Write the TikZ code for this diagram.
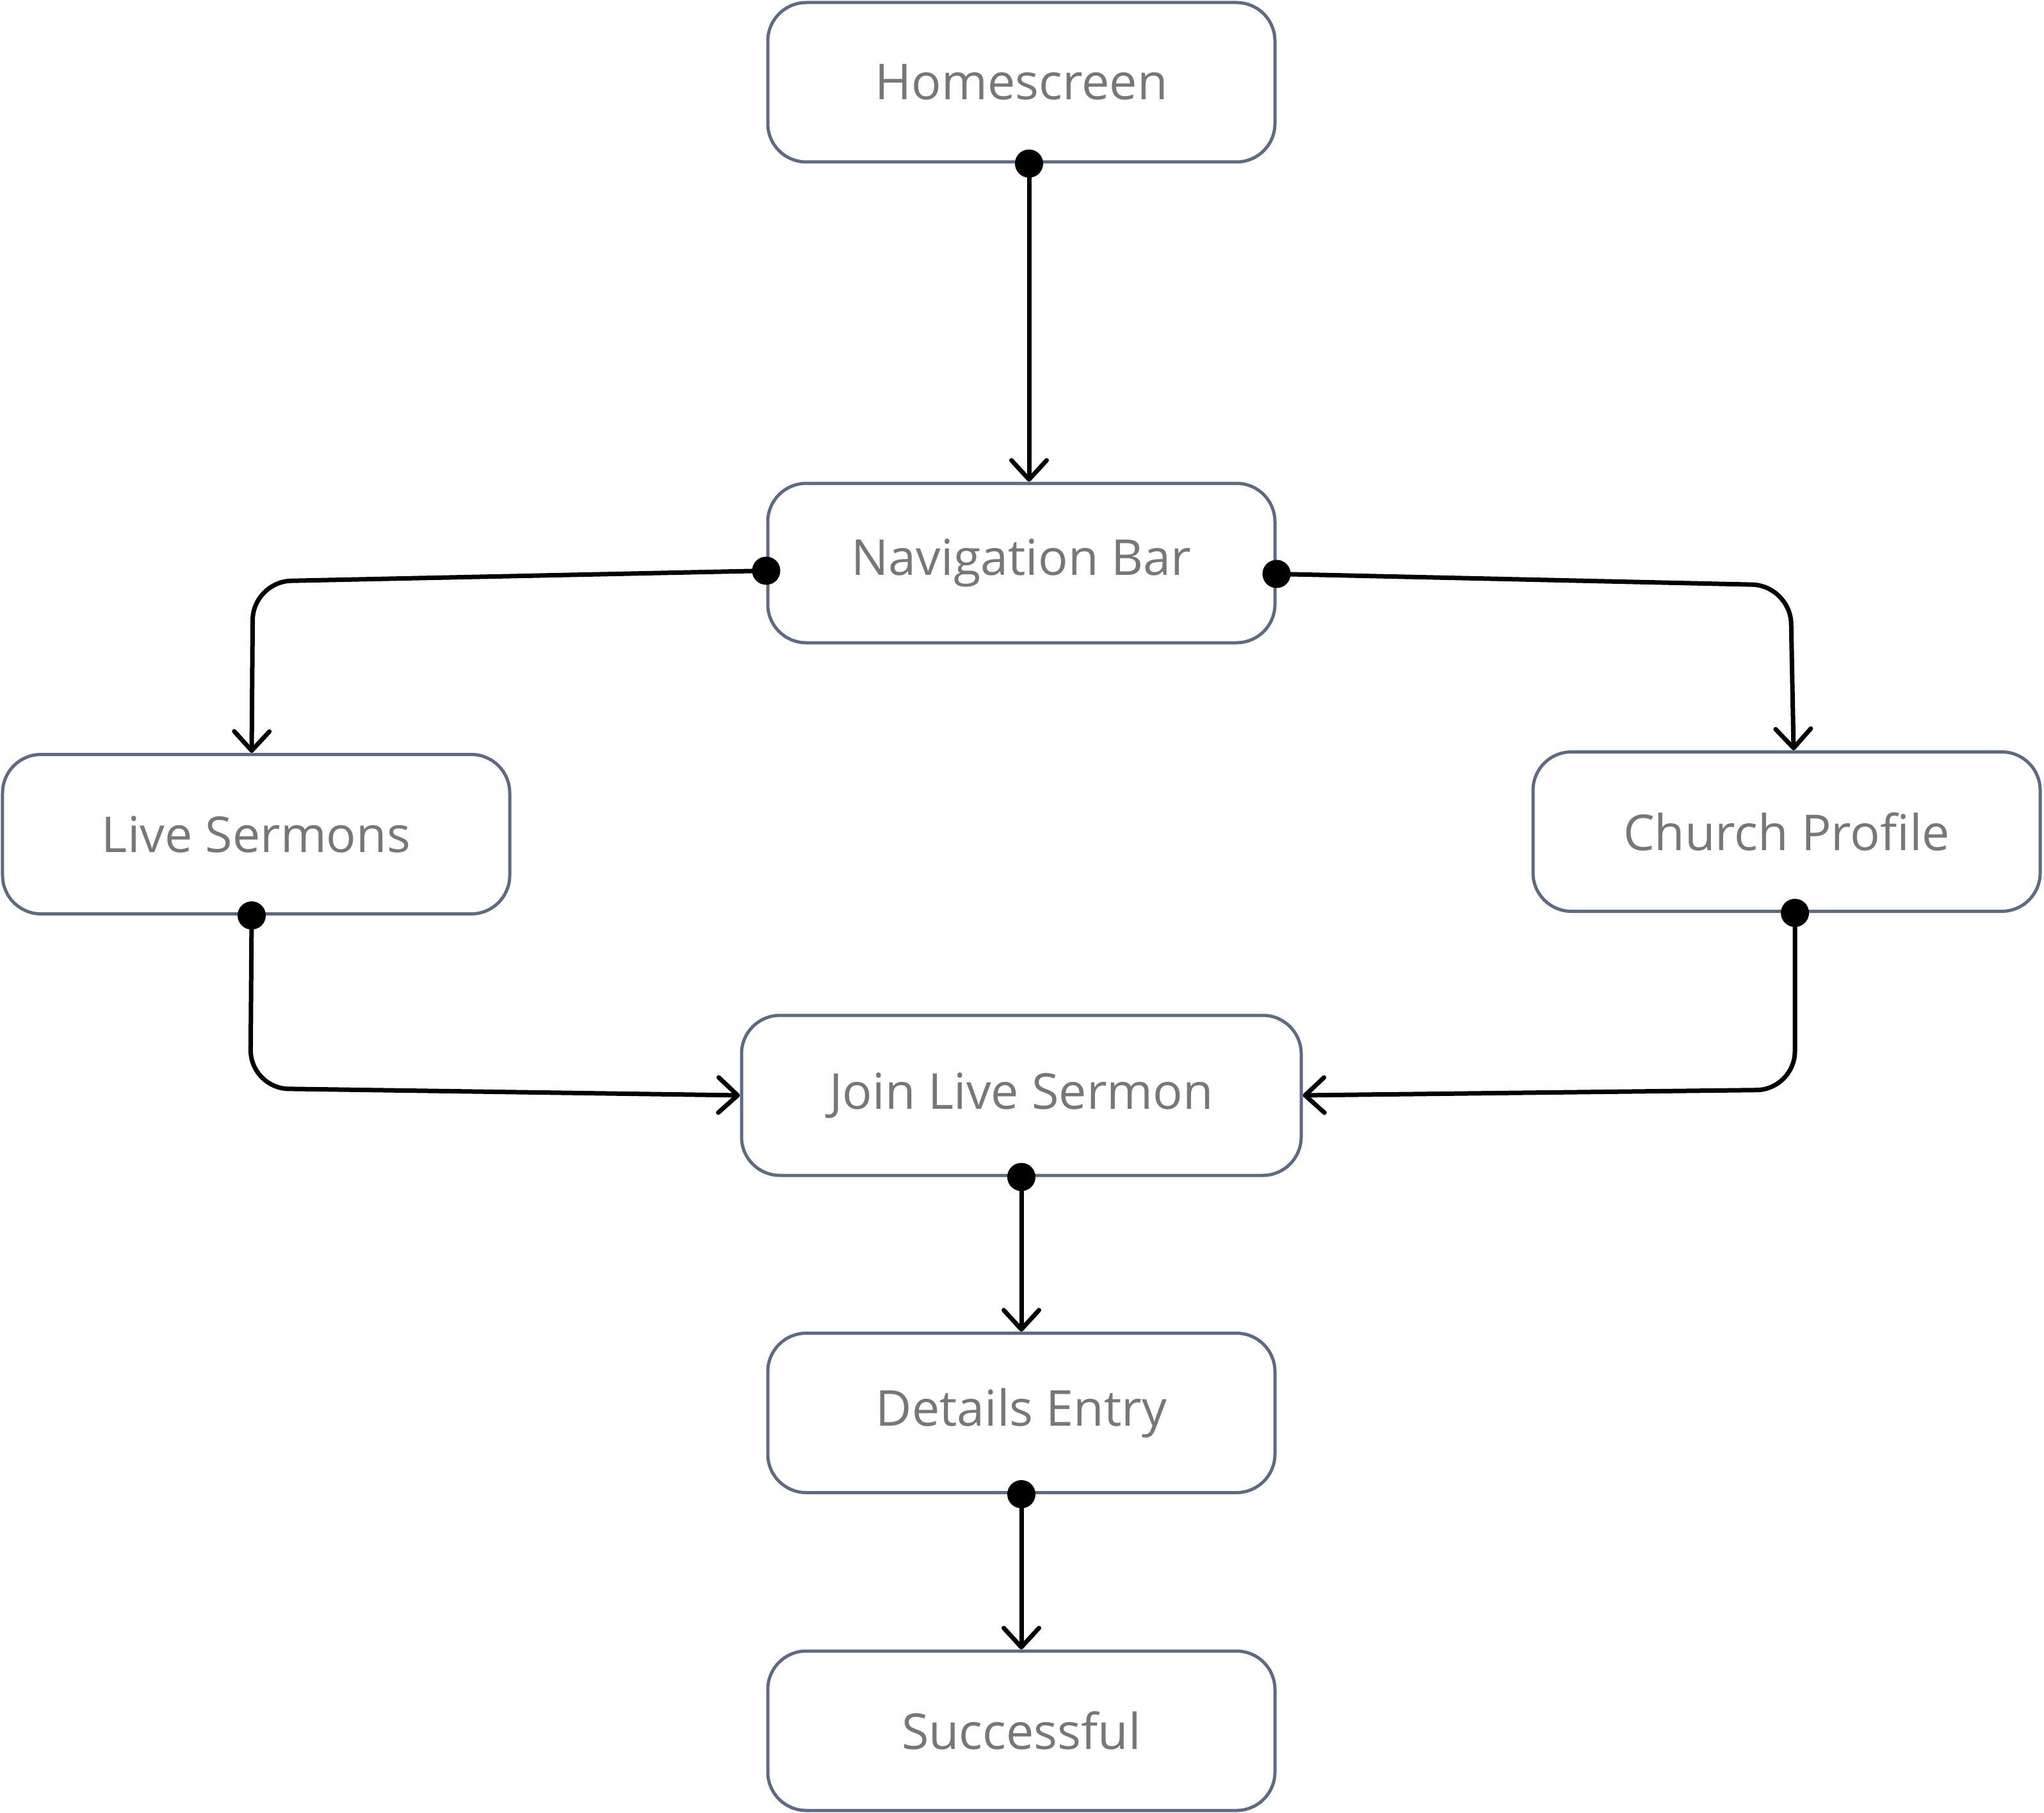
\documentclass[tikz,border=0pt]{standalone}
\usepackage{fontspec}
\setmainfont{Open Sans}
\usetikzlibrary{arrows.meta}
\definecolor{boxline}{HTML}{5E6A82}
\definecolor{boxtext}{HTML}{777777}
\tikzset{
  screen/.style={draw=boxline, line width=0.5mm, rounded corners=6mm, minimum width=7.92cm, minimum height=2.49cm, inner sep=0pt, text=boxtext, font=\fontsize{22}{27}\selectfont},
  link/.style={line width=0.7mm, rounded corners=6mm, shorten <=-2.2mm, {Circle[length=4.4mm]}-{Straight Barb[round,length=3mm,width=5.5mm]}}
}
\begin{document}
\begin{tikzpicture}
            \useasboundingbox (0,0) rectangle (31.92,-28.32);
            \node[screen] (home) at (15.95,-1.285) {Homescreen};
            \node[screen] (nav) at (15.95,-8.795) {Navigation Bar};
            \node[screen] (live) at (4.00,-13.03) {Live Sermons};
            \node[screen] (church) at (27.90,-12.99) {Church Profile};
            \node[screen, minimum width=8.74cm, minimum height=2.50cm] (join) at (15.95,-17.11) {Join Live Sermon};
            \node[screen] (details) at (15.95,-22.07) {Details Entry};
            \node[screen] (success) at (15.95,-27.035) {Successful};
            \draw[link] ([xshift=1.2mm]home.south) -- ([xshift=1.2mm]nav.north);
            \draw[link] ([yshift=-1.2mm]nav.west) -- ([xshift=-0.5mm,yshift=-2.9mm]nav.west -| live.north) -- ([xshift=-0.7mm]live.north);
            \draw[link] ([yshift=-1.7mm]nav.east) -- ([xshift=0.6mm,yshift=-3.5mm]nav.east -| church.north) -- ([xshift=1.1mm]church.north);
            \draw[link] ([xshift=-0.7mm]live.south) -- ([xshift=-0.9mm,yshift=1.1mm]live.south |- join.west) -- (join.west);
            \draw[link] ([xshift=1.3mm]church.south) -- ([xshift=1.3mm,yshift=0.9mm]church.south |- join.east) -- (join.east);
            \draw[link] (join.south) -- (details.north);
            \draw[link] (details.south) -- (success.north);
        \end{tikzpicture}
\end{document}
